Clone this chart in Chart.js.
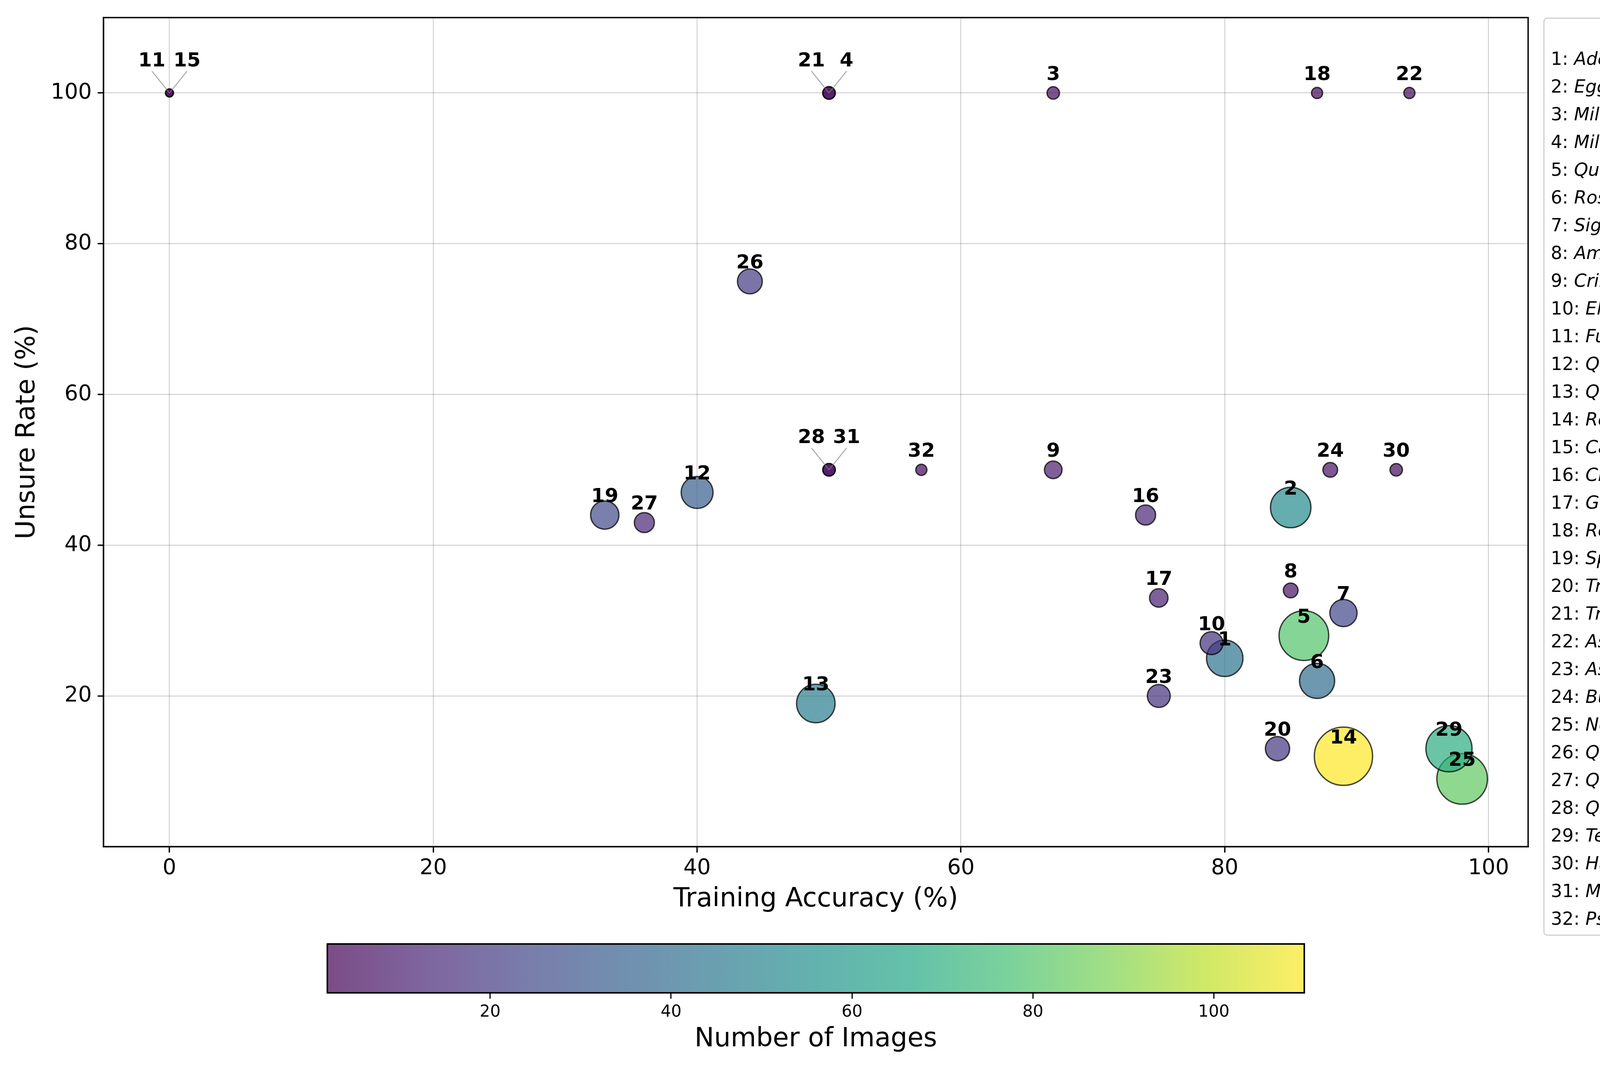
<!DOCTYPE html>
<html>
<head>
<meta charset="utf-8">
<script src="https://cdn.jsdelivr.net/npm/chart.js@4.4.1/dist/chart.umd.min.js"></script>
<style>
html,body{margin:0;padding:0;background:#fff;width:4786px;height:2736px;overflow:hidden;}
#main{position:absolute;left:0;top:-33px;}
#cbar{position:absolute;left:0;top:2390px;}
#legend{position:absolute;left:3951px;top:45px;width:791px;height:2350px;box-sizing:border-box;
  border:3px solid #d0d0d0;border-radius:10px;background:rgba(255,255,255,0.8);
  font-family:'DejaVu Sans';font-size:46px;line-height:71px;color:#000;white-space:nowrap;}
#legend .ttl{text-align:center;margin-top:-4px;height:71px;}
#legend .row{padding-left:16px;height:71px;}
</style>
</head>
<body>
<canvas id="main" width="4786" height="2423"></canvas>
<canvas id="cbar" width="4786" height="346"></canvas>
<div id="legend"></div>
<script>
// ---------------- data ----------------
const speciesNames = [
  "Adelosina spp.", "Eggerella scabra", "Miliolinella spp.", "Miliolinella subrotunda",
  "Quinqueloculina aspera", "Rosalina spp.", "Sigmoilina grata", "Ammonia spp.",
  "Cribrostomoides kosterensis", "Elphidium spp.", "Fursenkoina acuta", "Quinqueloculina lamarckiana",
  "Quinqueloculina seminulum", "Reophax spp.", "Cassidulina oblonga", "Cibicides lobatulus",
  "Gavelinopsis praegeri", "Reussella spinulosa", "Spiroloculina spp.", "Triloculina trigonula",
  "Trochammina sp.", "Asterigerinata mamilla", "Astrononion stelligerum", "Bulimina aculeata",
  "Neoconorbina terquemi", "Quinqueloculina bosciana", "Quinqueloculina costata", "Quinqueloculina laevigata",
  "Textularia spp.", "Hanzawaia boueana", "Miliolinella webbiana", "Psammosphaera fusca"
];
const trainingAccuracy = [80, 85, 67, 50, 86, 87, 89, 85, 67, 79, 0, 40, 49, 89, 0, 74,
                          75, 87, 33, 84, 50, 94, 75, 88, 98, 44, 36, 50, 97, 93, 50, 57];
const unsureRate       = [25, 45, 100, 100, 28, 22, 31, 34, 50, 27, 100, 47, 19, 12, 100, 44,
                          33, 100, 44, 13, 100, 100, 20, 50, 9, 75, 43, 50, 13, 50, 50, 50];
const numberOfImages   = [43, 53, 5, 5, 80, 40, 24, 7, 10, 17, 2, 33, 48, 110, 2, 13,
                          11, 4, 26, 19, 5, 4, 17, 7, 83, 20, 13, 5, 69, 5, 5, 4];
const xTicks = [0, 20, 40, 60, 80, 100];
const yTicks = [20, 40, 60, 80, 100];
const colorbarTicks = [20, 40, 60, 80, 100];

// ---------------- styles ----------------
const FONT = "'DejaVu Sans'";
const VIRIDIS = [[68,1,84],[72,36,117],[65,68,135],[53,95,141],[42,120,142],[33,145,140],
                 [34,168,132],[68,191,112],[122,209,81],[189,223,38],[253,231,37]];
function viridis(t, a) {
  t = Math.max(0, Math.min(1, t));
  const p = t * 10, i = Math.min(9, Math.floor(p)), f = p - i;
  const c = VIRIDIS[i].map((v, k) => Math.round(v + (VIRIDIS[i + 1][k] - v) * f));
  return `rgba(${c[0]},${c[1]},${c[2]},${a})`;
}
const cmin = Math.min(...numberOfImages), cmax = Math.max(...numberOfImages);
const ALPHA = 0.7;
const maxRadius = 74.5;
const radiusFor = c => maxRadius * Math.sqrt(c / cmax);

const points = trainingAccuracy.map((x, i) => ({ x: x, y: unsureRate[i], r: radiusFor(numberOfImages[i]) }));
const fills = numberOfImages.map(c => viridis((c - cmin) / (cmax - cmin), ALPHA));

// ---------------- plugins ----------------
const framePlugin = {
  id: 'frame',
  afterDatasetsDraw(chart) {
    const { ctx, chartArea: a } = chart;
    ctx.save();
    ctx.strokeStyle = '#000';
    ctx.lineWidth = 3.5;
    ctx.strokeRect(a.left, a.top, a.right - a.left, a.bottom - a.top);
    ctx.restore();
  }
};

const labelPlugin = {
  id: 'pointLabels',
  afterDraw(chart) {
    const { ctx } = chart;
    const meta = chart.getDatasetMeta(0);
    const groups = {};
    trainingAccuracy.forEach((x, i) => {
      const k = x + ',' + unsureRate[i];
      (groups[k] = groups[k] || []).push(i);
    });
    ctx.save();
    ctx.font = 'bold 50px ' + FONT;
    ctx.fillStyle = '#000';
    ctx.textAlign = 'center';
    ctx.textBaseline = 'alphabetic';
    Object.values(groups).forEach(g => {
      const el = meta.data[g[0]];
      if (g.length === 1) {
        ctx.fillText(String(g[0] + 1), el.x, el.y - 33);
      } else {
        const ids = g.map(i => String(i + 1)).sort();
        const spread = 45;
        ids.forEach((id, j) => {
          const dx = (j - (ids.length - 1) / 2) * 2 * spread;
          ctx.strokeStyle = 'rgba(128,128,128,0.7)';
          ctx.lineWidth = 2.5;
          ctx.beginPath();
          ctx.moveTo(el.x + dx, el.y - 56);
          ctx.lineTo(el.x, el.y);
          ctx.stroke();
          ctx.fillText(id, el.x + dx, el.y - 68);
        });
      }
    });
    ctx.restore();
  }
};

// ---------------- main chart ----------------
new Chart(document.getElementById('main'), {
  type: 'bubble',
  data: {
    datasets: [{
      data: points,
      backgroundColor: fills,
      borderColor: 'rgba(0,0,0,0.72)',
      borderWidth: 3.5,
      hoverBorderWidth: 3.5
    }]
  },
  options: {
    responsive: false,
    animation: false,
    devicePixelRatio: 1,
    events: [],
    layout: { padding: { left: 0, top: 76, right: 874, bottom: 47 } },
    plugins: { legend: { display: false }, tooltip: { enabled: false } },
    scales: {
      x: {
        type: 'linear', min: -5, max: 103,
        afterBuildTicks: s => { s.ticks = xTicks.map(v => ({ value: v })); },
        afterFit: s => { s.height = 176; },
        grid: { color: 'rgba(0,0,0,0.15)', lineWidth: 3, tickColor: '#000', tickWidth: 3.5, tickLength: 15 },
        border: { color: '#000', width: 3.5 },
        ticks: { color: '#000', font: { family: FONT, size: 55 }, padding: 8, maxRotation: 0, callback: v => String(v) },
        title: { display: true, text: 'Training Accuracy (%)', color: '#000', font: { family: FONT, size: 67 }, padding: { top: 0, bottom: 0 } }
      },
      y: {
        type: 'linear', min: 0, max: 110,
        afterBuildTicks: s => { s.ticks = yTicks.map(v => ({ value: v })); },
        afterFit: s => { s.width = 265; },
        grid: { color: 'rgba(0,0,0,0.15)', lineWidth: 3, tickColor: '#000', tickWidth: 3.5, tickLength: 15 },
        border: { color: '#000', width: 3.5 },
        ticks: { color: '#000', font: { family: FONT, size: 55 }, padding: 15, callback: v => String(v) },
        title: { display: true, text: 'Unsure Rate (%)', color: '#000', font: { family: FONT, size: 67 }, padding: { top: 30, bottom: 0 } }
      }
    }
  },
  plugins: [framePlugin, labelPlugin]
});

// ---------------- colorbar ----------------
const gradientPlugin = {
  id: 'cbGradient',
  beforeDatasetsDraw(chart) {
    const { ctx, chartArea: a, scales: { x } } = chart;
    const x0 = x.getPixelForValue(cmin), x1 = x.getPixelForValue(cmax);
    const g = ctx.createLinearGradient(x0, 0, x1, 0);
    for (let k = 0; k <= 10; k++) g.addColorStop(k / 10, viridis(k / 10, ALPHA));
    ctx.save();
    ctx.fillStyle = g;
    ctx.fillRect(a.left, a.top, a.right - a.left, a.bottom - a.top);
    ctx.strokeStyle = '#000';
    ctx.lineWidth = 4;
    ctx.strokeRect(a.left, a.top, a.right - a.left, a.bottom - a.top);
    ctx.restore();
  }
};
new Chart(document.getElementById('cbar'), {
  type: 'scatter',
  data: { datasets: [] },
  options: {
    responsive: false,
    animation: false,
    devicePixelRatio: 1,
    events: [],
    layout: { padding: { left: 838, right: 1447, top: 26, bottom: 35 } },
    plugins: { legend: { display: false }, tooltip: { enabled: false } },
    scales: {
      x: {
        type: 'linear', min: cmin, max: cmax,
        afterBuildTicks: s => { s.ticks = colorbarTicks.map(v => ({ value: v })); },
        afterFit: s => { s.height = 160; },
        grid: { display: true, drawOnChartArea: false, color: '#000', tickColor: '#000', tickWidth: 3, tickLength: 15 },
        border: { display: false },
        ticks: { color: '#000', font: { family: FONT, size: 42 }, padding: 10, maxRotation: 0, callback: v => String(v) },
        title: { display: true, text: 'Number of Images', color: '#000', font: { family: FONT, size: 67 }, padding: { top: 0, bottom: 0 } }
      },
      y: { display: false, min: 0, max: 1 }
    }
  },
  plugins: [gradientPlugin]
});

// ---------------- legend ----------------
const legend = document.getElementById('legend');
const ttl = document.createElement('div');
ttl.className = 'ttl';
ttl.textContent = 'Species';
legend.appendChild(ttl);
speciesNames.forEach((name, i) => {
  const row = document.createElement('div');
  row.className = 'row';
  row.appendChild(document.createTextNode((i + 1) + ': '));
  const m = name.match(/^(.*?)( spp?\.)$/);
  const it = document.createElement('i');
  it.textContent = m ? m[1] : name;
  row.appendChild(it);
  if (m) row.appendChild(document.createTextNode(m[2]));
  legend.appendChild(row);
});
</script>
</body>
</html>
